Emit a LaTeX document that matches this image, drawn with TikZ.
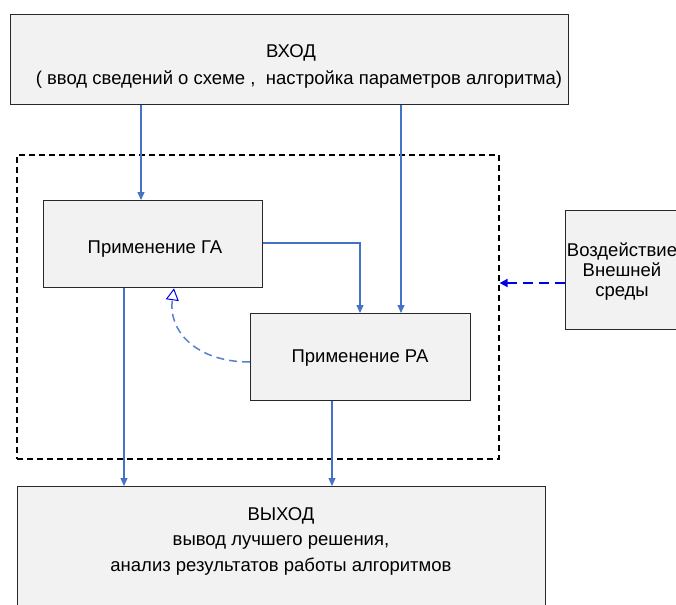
\documentclass[tikz,border=0pt]{standalone}
\usepackage{fontspec}
\setmainfont{Liberation Sans}
\usetikzlibrary{arrows.meta}
\definecolor{lnblue}{RGB}{68,114,196}
\definecolor{dashblue}{RGB}{0,0,230}
\definecolor{boxfill}{RGB}{242,242,242}
\definecolor{boxline}{RGB}{40,40,40}
\tikzset{
  box/.style={draw=boxline, line width=1.3pt, fill=boxfill, rectangle, inner sep=0pt},
  txt/.style={font=\fontsize{18.5}{25.5}\selectfont, align=center, inner sep=0pt},
  flow/.style={draw=lnblue, line width=1.1pt, -{Triangle[length=8pt,width=7pt]}},
  group/.style={draw=black, line width=1.6pt, dash pattern=on 6pt off 4pt},
}
\begin{document}
\begin{tikzpicture}[x=1pt,y=-1pt]
\useasboundingbox (0,0) rectangle (676,604);
% boxes
\node[box, minimum width=558pt, minimum height=90pt, anchor=north west] (in) at (10,14) {};
\node[txt] (intitle) at (291,53) {ВХОД};
\node[txt] (intext) at (299,80) {( ввод сведений о схеме ,\ \ настройка параметров алгоритма)};
\node[group, rectangle, minimum width=482pt, minimum height=304pt, anchor=north west] (grp) at (16,154) {};
\node[box, minimum width=219pt, minimum height=87pt, anchor=north west] (ga) at (43,200) {};
\node[txt] (gatext) at (155,249) {Применение ГА};
\node[box, minimum width=220pt, minimum height=87pt, anchor=north west] (ra) at (250,313) {};
\node[txt] (ratext) at (360,358) {Применение РА};
\node[box, minimum width=140pt, minimum height=119pt, anchor=north west] (ext) at (565,210) {};
\node[txt, font=\fontsize{18.5}{20}\selectfont] (exttext) at (622,272) {Воздействие\\Внешней\\среды};
\node[box, minimum width=528pt, minimum height=150pt, anchor=north west] (out) at (17,486) {};
\node[txt] (outtext) at (281,541) {ВЫХОД\\вывод лучшего решения,\\анализ результатов работы алгоритмов};
% connectors
\draw[flow] (in.south -| 141,0) -- (ga.north -| 141,0);
\draw[flow] (in.south -| 401,0) -- (ra.north -| 401,0);
\draw[flow] (ga.east |- 0,243) -| (ra.north -| 360,0);
\draw[flow] (ga.south -| 124,0) -- (out.north -| 124,0);
\draw[flow] (ra.south -| 332,0) -- (out.north -| 332,0);
\draw[draw=lnblue!90, line width=1.5pt, dash pattern=on 8pt off 5pt,
  -{Triangle[open, length=12pt, width=13pt, color=dashblue, line width=1pt]}]
  (ra.west |- 0,362) .. controls (195,362) and (168,330) .. (ga.south -| 174,0);
\draw[draw=dashblue, line width=1.8pt, dash pattern=on 10pt off 6pt,
  -{Triangle[length=8pt,width=8pt]}] (ext.west |- 0,283) -- (grp.east |- 0,283);
\end{tikzpicture}
\end{document}
